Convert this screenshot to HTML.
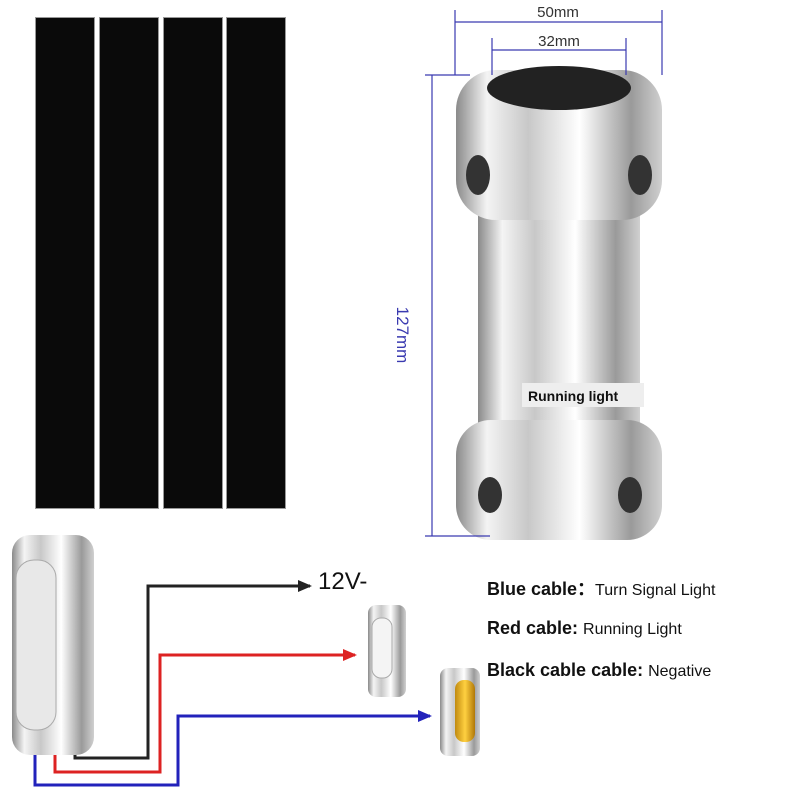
<!DOCTYPE html>
<html><head><meta charset="utf-8"><style>
body{margin:0;width:800px;height:800px;background:#fff;overflow:hidden;position:relative;font-family:"Liberation Sans",sans-serif}
.s{position:absolute;top:18px;height:490px;background:#0a0a0a;width:58px;box-shadow:0 0 0 1px #999}
.t{position:absolute;font-weight:bold;color:#111;font-size:18px;white-space:nowrap}
.t span{font-weight:normal;font-size:16px}
</style></head><body>
<div class="s" style="left:36px"></div>
<div class="s" style="left:100px"></div>
<div class="s" style="left:164px"></div>
<div class="s" style="left:227px"></div>
<svg width="800" height="800" style="position:absolute;left:0;top:0">
<defs>
<linearGradient id="c" x1="0" x2="1"><stop offset="0" stop-color="#8a8a8a"/><stop offset=".15" stop-color="#f4f4f4"/><stop offset=".35" stop-color="#c8c8c8"/><stop offset=".6" stop-color="#ffffff"/><stop offset=".85" stop-color="#9a9a9a"/><stop offset="1" stop-color="#d0d0d0"/></linearGradient>
<linearGradient id="y" x1="0" x2="1"><stop offset="0" stop-color="#c08a10"/><stop offset=".5" stop-color="#ffd040"/><stop offset="1" stop-color="#b07808"/></linearGradient>
<marker id="ak" markerUnits="userSpaceOnUse" markerWidth="14" markerHeight="12" refX="12" refY="6" orient="auto"><path d="M0,0L14,6L0,12z" fill="#222"/></marker>
<marker id="ar" markerUnits="userSpaceOnUse" markerWidth="14" markerHeight="12" refX="12" refY="6" orient="auto"><path d="M0,0L14,6L0,12z" fill="#d22"/></marker>
<marker id="ab" markerUnits="userSpaceOnUse" markerWidth="14" markerHeight="12" refX="12" refY="6" orient="auto"><path d="M0,0L14,6L0,12z" fill="#22b"/></marker>
</defs>
<rect x="478" y="150" width="162" height="310" fill="url(#c)"/>
<rect x="456" y="70" width="206" height="150" rx="40" fill="url(#c)"/>
<ellipse cx="559" cy="88" rx="72" ry="22" fill="#222"/>
<rect x="456" y="420" width="206" height="120" rx="35" fill="url(#c)"/>
<ellipse cx="478" cy="175" rx="12" ry="20" fill="#333"/><ellipse cx="640" cy="175" rx="12" ry="20" fill="#333"/>
<ellipse cx="490" cy="495" rx="12" ry="18" fill="#333"/><ellipse cx="630" cy="495" rx="12" ry="18" fill="#333"/>
<g stroke="#3a3ab0" stroke-width="1.2" fill="none">
<line x1="455" y1="22" x2="662" y2="22"/><line x1="455" y1="10" x2="455" y2="75"/><line x1="662" y1="10" x2="662" y2="75"/>
<line x1="492" y1="50" x2="626" y2="50"/><line x1="492" y1="38" x2="492" y2="75"/><line x1="626" y1="38" x2="626" y2="75"/>
<line x1="432" y1="75" x2="432" y2="536"/><line x1="425" y1="75" x2="470" y2="75"/><line x1="425" y1="536" x2="490" y2="536"/>
</g>
<text x="558" y="17" font-size="15" text-anchor="middle" fill="#333" font-family="Liberation Sans">50mm</text>
<text x="559" y="46" font-size="15" text-anchor="middle" fill="#333" font-family="Liberation Sans">32mm</text>
<text transform="translate(397,335) rotate(90)" font-size="17" text-anchor="middle" fill="#3a3ab0" font-family="Liberation Sans">127mm</text>
<rect x="522" y="383" width="122" height="24" fill="#eee"/>
<text x="528" y="401" font-size="14" font-weight="bold" fill="#111" font-family="Liberation Sans">Running light</text>
<g fill="none" stroke-width="3">
<path d="M75,752V758H148V586H310" stroke="#222" marker-end="url(#ak)"/>
<path d="M55,752V772H160V655H355" stroke="#d22" marker-end="url(#ar)"/>
<path d="M35,752V785H178V716H430" stroke="#22b" marker-end="url(#ab)"/>
</g>
<rect x="12" y="535" width="82" height="220" rx="18" fill="url(#c)"/>
<rect x="16" y="560" width="40" height="170" rx="18" fill="#e8e8e8" stroke="#aaa"/>
<rect x="368" y="605" width="38" height="92" rx="8" fill="url(#c)"/>
<rect x="372" y="618" width="20" height="60" rx="9" fill="#f4f4f4" stroke="#aaa"/>
<rect x="440" y="668" width="40" height="88" rx="8" fill="url(#c)"/>
<rect x="455" y="680" width="20" height="62" rx="9" fill="url(#y)"/>
</svg>
<div class="t" style="left:318px;top:568px;font-size:24px;font-weight:normal">12V-</div>
<div class="t" style="left:487px;top:575px">Blue cable：<span>Turn Signal Light</span></div>
<div class="t" style="left:487px;top:618px">Red cable: <span>Running Light</span></div>
<div class="t" style="left:487px;top:660px">Black cable cable: <span>Negative</span></div>
</body></html>
